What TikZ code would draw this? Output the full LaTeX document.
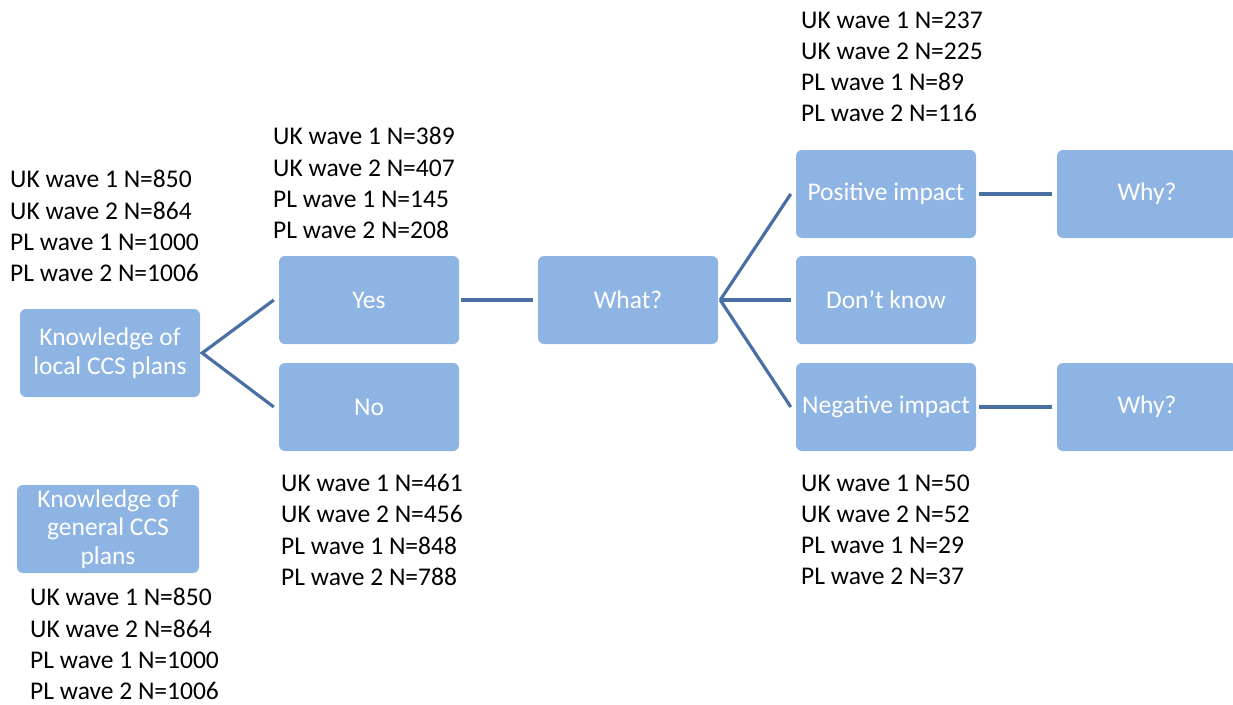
\documentclass[tikz,border=0pt]{standalone}
\usepackage{fontspec}
\setmainfont{Carlito}
\definecolor{boxfill}{HTML}{8EB4E3}
\definecolor{linecol}{HTML}{4A70A3}
\begin{document}
\begin{tikzpicture}[x=1pt,y=-1pt,
  box/.style={draw=none,fill=boxfill,rounded corners=6pt,minimum width=180pt,minimum height=88pt,
    text=white,align=center,font=\fontsize{25.5}{28.5}\selectfont,inner sep=0pt},
  lbl/.style={align=left,anchor=west,inner sep=0pt,font=\fontsize{25.5}{31.2}\selectfont,text=black},
  conn/.style={draw=linecol,line width=3.2pt}]
\useasboundingbox (0,0) rectangle (1233,704);
\clip (0,0) rectangle (1233,704);
\node[box] (local) at (110,353) {Knowledge of\\local CCS plans};
\node[box,minimum width=182pt] (general) at (108,529) {Knowledge of\\general CCS\\plans};
\node[box] (yes) at (369,300) {Yes};
\node[box] (no) at (369,407) {No};
\node[box] (what) at (628,300) {What?};
\node[box] (pos) at (886,194) {Positive impact};
\node[box] (dk) at (886,300) {Don’t know};
\node[box] (neg) at (886,407) {Negative impact};
\node[box] (why1) at (1147,194) {Why?};
\node[box] (why2) at (1147,407) {Why?};

\node[lbl] (l1) at (10,226) {UK wave 1 N=850\\UK wave 2 N=864\\PL wave 1 N=1000\\PL wave 2 N=1006};
\node[lbl] (l2) at (273,183) {UK wave 1 N=389\\UK wave 2 N=407\\PL wave 1 N=145\\PL wave 2 N=208};
\node[lbl] (l3) at (281,530) {UK wave 1 N=461\\UK wave 2 N=456\\PL wave 1 N=848\\PL wave 2 N=788};
\node[lbl] (l4) at (801,67) {UK wave 1 N=237\\UK wave 2 N=225\\PL wave 1 N=89\\PL wave 2 N=116};
\node[lbl] (l5) at (801,530) {UK wave 1 N=50\\UK wave 2 N=52\\PL wave 1 N=29\\PL wave 2 N=37};
\node[lbl] (l6) at (30,644) {UK wave 1 N=850\\UK wave 2 N=864\\PL wave 1 N=1000\\PL wave 2 N=1006};

\coordinate (a0) at ([xshift=2pt]local.east);
\coordinate (a1) at ([xshift=-5pt]yes.west);
\coordinate (a2) at ([xshift=-5pt]no.west);
\draw[conn] (a1) -- (a0) -- (a2);
\draw[conn] ([xshift=2pt]yes.east) -- ([xshift=-5pt]what.west);
\coordinate (b0) at ([xshift=2pt]what.east);
\draw[conn] (b0) -- ([xshift=-5pt]pos.west);
\draw[conn] (b0) -- ([xshift=-5pt]dk.west);
\draw[conn] (b0) -- ([xshift=-5pt]neg.west);
\draw[conn] ([xshift=3pt]pos.east) -- ([xshift=-5pt]why1.west);
\draw[conn] ([xshift=3pt]neg.east) -- ([xshift=-5pt]why2.west);
\end{tikzpicture}
\end{document}
